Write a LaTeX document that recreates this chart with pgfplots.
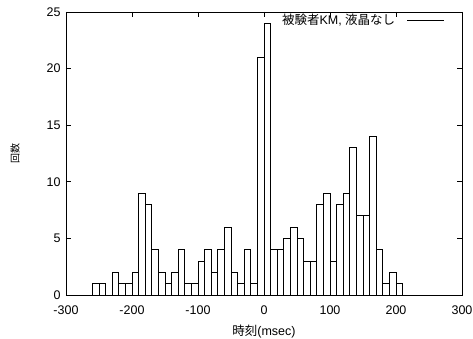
\documentclass[border=0pt]{standalone}
\usepackage{pgfplots}
\pgfplotsset{compat=1.18}
\usepackage{fontspec}
\setmainfont{Liberation Sans}
\newfontfamily\jp{Noto Sans CJK JP}
\begin{document}
\begin{tikzpicture}
\useasboundingbox (-66pt,-44pt) rectangle (407pt,295pt);
\begin{axis}[
  at={(0pt,0pt)}, anchor=south west,
  width=396pt, height=283pt, scale only axis,
  xmin=-300, xmax=300, ymin=0, ymax=25,
  xtick={-300,-200,...,300}, ytick={0,5,...,25},
  tick align=inside, major tick length=5pt,
  axis line style={line width=0.8pt},
  tick style={line width=0.6pt, black},
  tick label style={font=\fontsize{12.5}{14}\selectfont},
  xticklabel style={anchor=center, yshift=-15pt},
  yticklabel style={anchor=east, xshift=-2pt},
  /pgf/number format/assume math mode=true,
  xlabel={{\jp 時刻}(msec)},
  ylabel={\jp 回数},
  every axis x label/.style={at={(axis description cs:0.5,0)}, yshift=-37pt, anchor=center, font=\fontsize{12.5}{14}\selectfont},
  every axis y label/.style={at={(axis description cs:0,0.5)}, xshift=-51pt, rotate=90, anchor=center, font=\fontsize{10}{12}\selectfont},
  legend style={draw=none, fill=none, at={(axis description cs:1,1)}, anchor=east,
    xshift=-17pt, yshift=-8pt, /tikz/column sep=10pt,
    font=\fontsize{12.5}{14}\selectfont, inner sep=0pt},
  legend plot pos=right,
  legend image code/.code={\draw[black, line width=0.6pt] (0pt,0pt) -- (37pt,0pt);},
]
\addplot[ybar interval, fill=white, draw=black, line width=0.8pt, forget plot] coordinates {
(-260,1) (-250,1) (-240,0) (-230,2) (-220,1) (-210,1) (-200,2) (-190,9) (-180,8) (-170,4)
(-160,2) (-150,1) (-140,2) (-130,4) (-120,1) (-110,1) (-100,3) (-90,4) (-80,2) (-70,4)
(-60,6) (-50,2) (-40,1) (-30,4) (-20,1) (-10,21) (0,24) (10,4) (20,4) (30,5)
(40,6) (50,5) (60,3) (70,3) (80,8) (90,9) (100,3) (110,8) (120,9) (130,13)
(140,7) (150,7) (160,14) (170,4) (180,1) (190,2) (200,1) (210,0)
};
\addlegendimage{black}
\addlegendentry{{\jp 被験者}KM, {\jp 液晶なし}}
\end{axis}
\end{tikzpicture}
\end{document}
